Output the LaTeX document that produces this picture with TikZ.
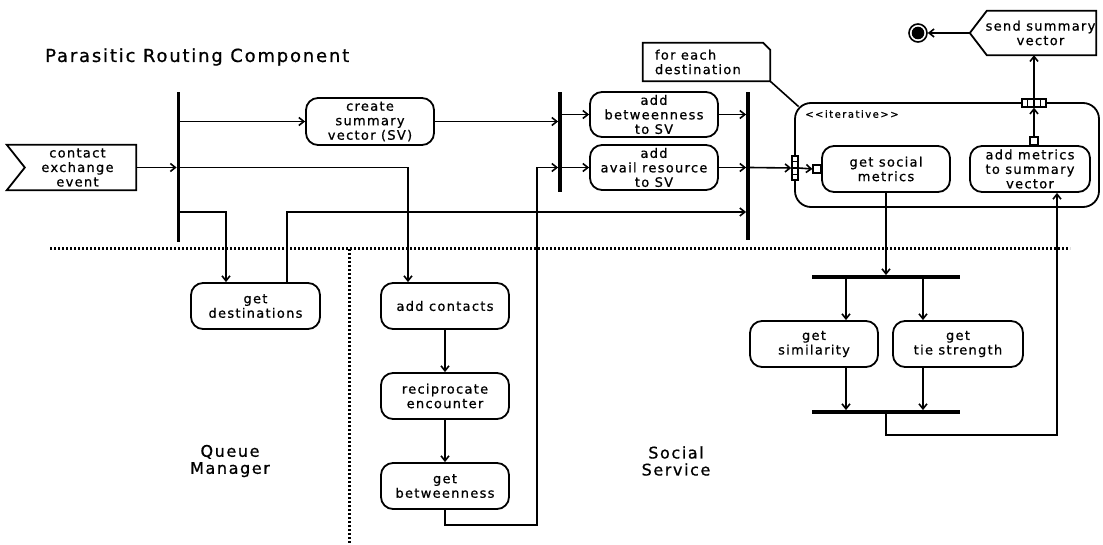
\documentclass[tikz,border=0pt]{standalone}
\usepackage{fontspec}
\setmainfont{DejaVu Sans}[LetterSpace=10, FakeBold=0.8]
\usetikzlibrary{arrows.meta,calc}

\newcommand{\nodetext}{\fontsize{13}{14.5}\selectfont}
\newcommand{\titletext}{\fontsize{18}{20}\selectfont}
\newcommand{\lanetext}{\fontsize{16}{17}\selectfont}
\newcommand{\smalltext}{\fontsize{10}{12}\selectfont\addfontfeatures{LetterSpace=15}}

\tikzset{
  act/.style={draw, rounded corners=12pt, line width=1.8pt, minimum width=128pt,
    minimum height=46pt, align=center, inner sep=2pt, font=\nodetext},
  vbar/.style={fill=black, inner sep=0pt, minimum width=3.4pt},
  hbar/.style={fill=black, inner sep=0pt, minimum height=3.4pt},
  arr/.style={-{Straight Barb[length=5pt,width=8pt]}, line width=1.6pt},
  ln/.style={line width=1.6pt},
  shp/.style={line width=1.8pt},
  lane/.style={line width=3pt, dash pattern=on 2.4pt off 1.6pt},
  pin/.style={draw, fill=white, line width=1.4pt, inner sep=0pt},
  plain/.style={inner sep=0pt, align=center},
}

\begin{document}
\begin{tikzpicture}[x=1pt, y=-1pt]
\useasboundingbox (0,0) rectangle (1103,545);

% swimlane separators
\draw[lane] (50,249) -- (1070,249);
\draw[lane] (349,249) -- (349,545);

% lane titles
\node[plain, anchor=west, font=\titletext] (ttl) at (45,57) {Parasitic Routing Component};
\node[plain, font=\lanetext] (qm) at (230,461) {Queue\\Manager};
\node[plain, font=\lanetext] (ss) at (676,461) {Social\\Service};

% incoming signal
\node[inner sep=0pt, minimum width=129pt, minimum height=45pt] (cse) at (71.5,167.5) {};
\draw[shp] (cse.north west) -- (cse.north east) -- (cse.south east) -- (cse.south west)
  -- ([xshift=18pt]cse.west) -- cycle;
\node[plain, font=\nodetext] (csetxt) at ([xshift=6pt]cse.center) {contact\\exchange\\event};

% fork / join bars
\node[vbar, minimum height=150pt] (bar1) at (178.5,167) {};
\node[vbar, minimum height=100pt] (bar2) at (560,142) {};
\node[vbar, minimum height=148pt] (bar3) at (748,166) {};

% actions of the routing component
\node[act, minimum height=47pt] (csv) at (370,121.5) {create\\summary\\vector (SV)};
\node[act, minimum height=45pt] (bet2sv) at (654,114.5) {add\\betweenness\\to SV};
\node[act, minimum height=45pt] (res2sv) at (654,167.5) {add\\avail resource\\to SV};

% note
\node[inner sep=0pt, minimum width=127pt, minimum height=38pt] (note) at (706.5,62) {};
\draw[shp] (note.south west) -- (note.north west) -- ([xshift=-7pt]note.north east)
  -- ([yshift=-7pt]note.north east) -- (note.south east) -- cycle;
\node[plain, anchor=west, align=left, font=\nodetext] (notetxt) at ([xshift=12pt]note.west) {for each\\destination};

% iterative expansion region
\node[draw, line width=1.8pt, rounded corners=16pt, minimum width=304pt, minimum height=104pt] (iter) at (947,155) {};
\node[plain, anchor=west, font=\smalltext] (itlbl) at (805,114) {{<}{<}iterative{>}{>}};
\draw[ln] (note.south east) -- ([shift={(4.5pt,-4.5pt)}]iter.north west);

\node[act] (gsm) at (886,169) {get social\\metrics};
\node[act, minimum width=120pt] (amv) at (1030,169) {add metrics\\to summary\\vector};

% pins
\node[pin, minimum width=6pt, minimum height=24pt] (inpin) at (795,168) {};
\foreach \k in {1,2,3} \draw[line width=1.1pt] ($(inpin.north west)!\k/4!(inpin.south west)$) -- ($(inpin.north east)!\k/4!(inpin.south east)$);
\node[pin, minimum width=24pt, minimum height=8pt] (outpin) at (1034,103) {};
\foreach \k in {1,2,3} \draw[line width=1.1pt] ($(outpin.north west)!\k/4!(outpin.north east)$) -- ($(outpin.south west)!\k/4!(outpin.south east)$);
\node[pin, minimum size=8pt] (sq1) at ([xshift=-4pt]gsm.west) {};
\node[pin, minimum size=8pt] (sq2) at ([yshift=4pt]amv.north -| outpin) {};

% outgoing signal and final node
\node[inner sep=0pt, minimum width=109pt, minimum height=44pt] (ssv) at (1041.5,33) {};
\draw[shp] (ssv.north west) -- (ssv.north east) -- (ssv.south east) -- (ssv.south west)
  -- ([xshift=-17pt]ssv.west) -- cycle;
\node[plain, font=\nodetext] (ssvtxt) at ([xshift=-1pt]ssv.center) {send summary\\vector};
\node[circle, draw, line width=1.6pt, minimum size=18pt, inner sep=0pt] (final) at (918,33) {};
\fill (final.center) circle (6.3pt);

% queue manager actions
\node[act, minimum width=129pt] (gdest) at (255.5,306) {get\\destinations};
\node[act] (addc) at (445,306) {add contacts};
\node[act] (recip) at (445,396) {reciprocate\\encounter};
\node[act] (gbet) at (445,486) {get\\betweenness};

% social service actions
\node[hbar, minimum width=148pt] (hbar1) at (886,277) {};
\node[act] (gsim) at (814,344) {get\\similarity};
\node[act, minimum width=130pt] (gtie) at (958,344) {get\\tie strength};
\node[hbar, minimum width=148pt] (hbar2) at (886,412) {};

\coordinate (turn) at (537,525);
\coordinate (back) at (1057,435);

% flows
\draw[arr] (cse.east) -- (cse.east -| bar1.west);
\draw[arr] (csv.west -| bar1.east) -- (csv.west);
\draw[arr] (cse.east -| bar1.east) -| ([xshift=-37pt]addc.north);
\draw[arr] ([yshift=-45pt]bar1.east) -| ([xshift=-29.5pt]gdest.north);
\draw[arr] ([xshift=31.5pt]gdest.north) |- ([yshift=-46pt]bar3.west);
\draw[arr] (csv.east) -- (csv.east -| bar2.west);
\draw[arr] (bet2sv.west -| bar2.east) -- (bet2sv.west);
\draw[arr] (res2sv.west -| bar2.east) -- (res2sv.west);
\draw[arr] (bet2sv.east) -- (bet2sv.east -| bar3.west);
\draw[arr] (res2sv.east) -- (res2sv.east -| bar3.west);
\draw[arr] (addc) -- (recip);
\draw[arr] (recip) -- (gbet);
\draw[arr] (gbet.south) |- (turn) |- (res2sv.west -| bar2.west);
\draw[arr] (res2sv.east -| bar3.east) -- (inpin.west);
\draw[arr] (inpin.east) -- (sq1.west);
\draw[arr] (gsm.south) -- (hbar1.north);
\draw[arr] ([xshift=32pt]gsim.north |- hbar1.south) -- ([xshift=32pt]gsim.north);
\draw[arr] ([xshift=-35pt]gtie.north |- hbar1.south) -- ([xshift=-35pt]gtie.north);
\draw[arr] ([xshift=32pt]gsim.south) -- ([xshift=32pt]gsim.south |- hbar2.north);
\draw[arr] ([xshift=-35pt]gtie.south) -- ([xshift=-35pt]gtie.south |- hbar2.north);
\draw[arr] (hbar2.south) |- (back) -- ([xshift=27pt]amv.south);
\draw[arr] (sq2.north) -- (outpin.south);
\draw[arr] (outpin.north) -- (outpin.north |- ssv.south);
\draw[arr] ([xshift=-17pt]ssv.west) -- (final);
\end{tikzpicture}
\end{document}
